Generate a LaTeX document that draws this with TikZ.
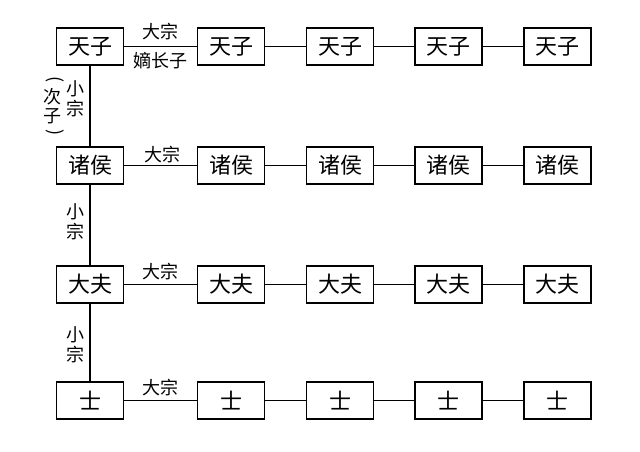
\documentclass[tikz,border=0pt]{standalone}
\usepackage{fontspec}
\setmainfont{Noto Sans CJK SC}
\begin{document}
\begin{tikzpicture}[x=1pt,y=-1pt,
  box/.style={draw,line width=1.2pt,minimum width=67pt,minimum height=37pt,inner sep=0pt,font=\fontsize{22}{22}\selectfont},
  lab/.style={inner sep=0pt,font=\fontsize{18}{20}\selectfont,align=center},
  conn/.style={line width=1.2pt}]
\useasboundingbox (0,0) rectangle (640,451);
\foreach \r/\y/\t in {1/46.5/天子,2/165.5/诸侯,3/284.5/大夫,4/400.5/士}{
  \foreach \c/\x in {1/90,2/231,3/340,4/448.5,5/557.5}{
    \node[box] (n\r\c) at (\x,\y) {\t};
  }
  \draw[conn] (n\r1) -- (n\r2);
  \draw[conn] (n\r2) -- (n\r3);
  \draw[conn] (n\r3) -- (n\r4);
  \draw[conn] (n\r4) -- (n\r5);
}
\draw[conn] (n11) -- (n21);
\draw[conn] (n21) -- (n31);
\draw[conn] (n31) -- (n41);
\node[lab] (t1) at (160,32) {大宗};
\node[lab] (t2) at (160,61) {嫡长子};
\node[lab] (t3) at (162,155) {大宗};
\node[lab] (t4) at (160,272) {大宗};
\node[lab] (t5) at (160,388) {大宗};
\node[lab] (v1) at (75,99) {小\\宗};
\node[lab] (v2) at (75,222) {小\\宗};
\node[lab] (v3) at (75,345) {小\\宗};
\node[lab,font=\fontsize{18}{19}\selectfont] (v4) at (52,106) {次\\子};
\node[lab,rotate=-90] (p1) at (55,80) {(};
\node[lab,rotate=-90] (p2) at (55,133) {)};
\end{tikzpicture}
\end{document}
